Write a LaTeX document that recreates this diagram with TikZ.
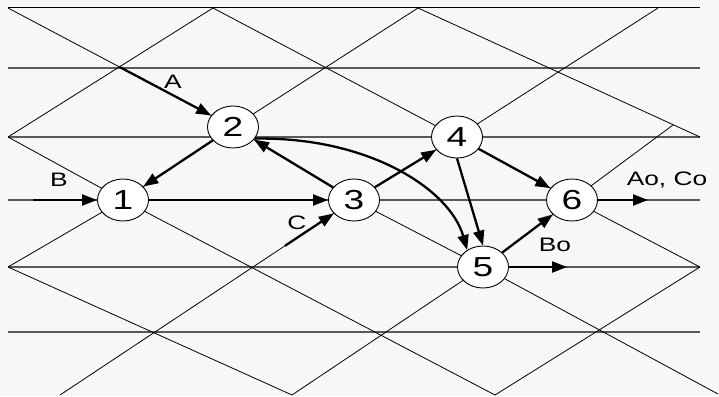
\documentclass[tikz,border=0pt]{standalone}
\usepackage{fontspec}
\usepackage{graphicx}
\setmainfont{Liberation Sans}
\usetikzlibrary{arrows.meta,shapes.geometric}
\newcommand\wide[1]{\scalebox{1.35}[1]{#1}}
\begin{document}
\begin{tikzpicture}[x=1pt,y=-1pt,
  lat/.style={line width=0.8pt},
  hline/.style={line width=1.1pt,draw=black!65},
  state/.style={ellipse,draw,line width=0.9pt,fill=white,minimum width=51pt,
    minimum height=42pt,inner sep=0pt,font=\fontsize{27.5}{27.5}\selectfont},
  lbl/.style={font=\fontsize{19.5}{19.5}\selectfont,inner sep=0pt},
  flow/.style={line width=2.3pt,-{Triangle[length=15pt,width=11pt]}},
]
\fill[black!3] (0,0) rectangle (719,396);
\useasboundingbox (0,0) rectangle (719,396);

% centres of the states (the lattice lines run through them)
\coordinate (c1) at (123,200);
\coordinate (c2) at (233,127);
\coordinate (c3) at (354,200);
\coordinate (c4) at (457,137);
\coordinate (c5) at (483,267);
\coordinate (c6) at (572,200);

% horizontal rows
\draw[line width=1pt] (8,8) -- (700,8);
\foreach \y in {68,137,200,267,332} \draw[hline] (8,\y) -- (700,\y);

% falling diagonals
\draw[lat] (8,8) -- (c2) -- (c3) -- (c5) -- (718,394);
\draw[lat] (213,8) -- (c4) -- (c6) -- (700,267);
\draw[lat] (418,8) -- (700,137);
\draw[lat] (8,137) -- (c1) -- (495,395);
\draw[lat] (8,267) -- (292,395);

% rising diagonals
\draw[lat] (8,137) -- (213,8);
\draw[lat] (8,267) -- (c1) -- (c2) -- (418,8);
\draw[lat] (60,395) -- (c3) -- (c4) -- (658,8);
\draw[lat] (495,395) -- (700,267);
\draw[lat] (292,395) -- (c5) -- (c6) -- (673,125);

% states
\node[state] (n1) at (c1) {\wide{1}};
\node[state] (n2) at (c2) {\wide{2}};
\node[state] (n3) at (c3) {\wide{3}};
\node[state] (n4) at (c4) {\wide{4}};
\node[state] (n5) at (c5) {\wide{5}};
\node[state] (n6) at (c6) {\wide{6}};

% free ends of the inputs and outputs
\coordinate (inA) at (120,67.2);
\coordinate (inB) at (33,200);
\coordinate (inC) at (285,245.8);
\coordinate (outB) at (567,267);
\coordinate (outAC) at (648,200);

% flows
\draw[flow] (inA) -- (n2);
\draw[flow] (inB) -- (n1);
\draw[flow] (inC) -- (n3);
\draw[flow] (n2) -- (n1);
\draw[flow] (n1) -- (n3);
\draw[flow] (n3) -- (n2);
\draw[flow] (n3) -- (n4);
\draw[flow] (n4) -- (n6);
\draw[flow] (n4.south) -- (n5.north);
\draw[flow] (n5) -- (n6);
\draw[flow] (n5) -- (outB);
\draw[flow] (n6) -- (outAC);
\draw[flow] (n2.-28) .. controls +(115,-2) and +(-17,-60) .. (n5.133);

% labels
\node[lbl] (lA) at (173,82) {\wide{A}};
\node[lbl] (lB) at (59,180) {\wide{B}};
\node[lbl] (lC) at (297,223) {\wide{C}};
\node[lbl] (lBo) at (555,245) {\wide{Bo}};
\node[lbl] (lAC) at (667,180) {\wide{Ao, Co}};
\end{tikzpicture}
\end{document}
